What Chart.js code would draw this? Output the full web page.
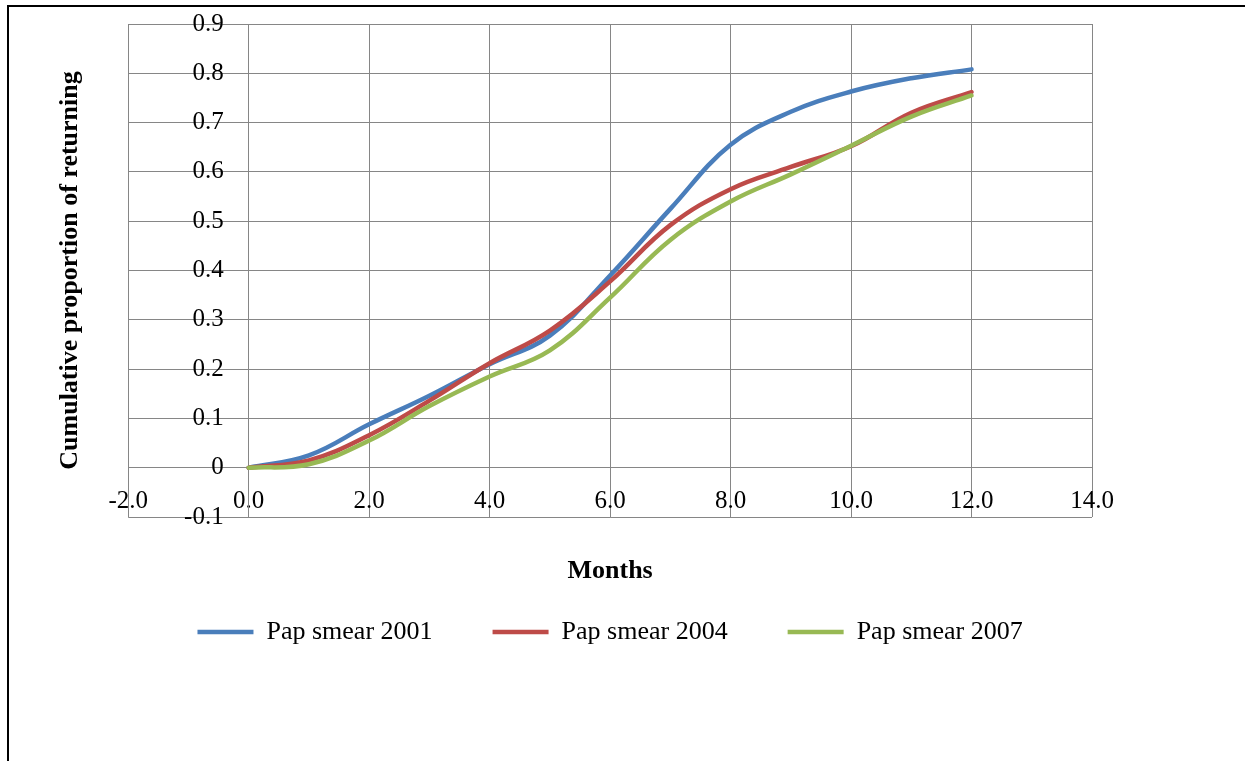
<!DOCTYPE html>
<html>
<head>
<meta charset="utf-8">
<title>Cumulative proportion of returning</title>
<script src="https://cdn.jsdelivr.net/npm/chart.js@4.4.0/dist/chart.umd.min.js"></script>
<style>
    html, body { margin: 0; padding: 0; background: #ffffff; }
    #wrap { position: relative; width: 1245px; height: 761px; }
    #frame { position: absolute; left: 7px; top: 5px; right: 0; bottom: 0; border-top: 2px solid #000; border-left: 2px solid #000; pointer-events: none; }
</style>
</head>
<body>
<div id="wrap">
    <canvas id="plot-id"></canvas>
    <div id="frame"></div>
</div>
<script>
// months since first smear
let months = [0, 1, 2, 3, 4, 5, 6, 7, 8, 9, 10, 11, 12];
// cumulative proportion of women returning
let pap2001 = [0, 0.025, 0.088, 0.146, 0.210, 0.268, 0.390, 0.525, 0.655, 0.722, 0.763, 0.790, 0.808];
let pap2004 = [0, 0.015, 0.066, 0.136, 0.212, 0.278, 0.378, 0.492, 0.565, 0.610, 0.652, 0.720, 0.762];
let pap2007 = [0, 0.007, 0.055, 0.125, 0.185, 0.238, 0.345, 0.462, 0.540, 0.595, 0.653, 0.712, 0.755];
let series_labels = ['Pap smear 2001', 'Pap smear 2004', 'Pap smear 2007'];
let series_colors = ['#4a7ebb', '#be4b48', '#98b954'];
let x_title = 'Months';
let y_title = 'Cumulative proportion of returning';

function make_points(values) {
    return months.map((m, i) => ({ x: m, y: values[i] }));
}

function plot_data() {
    Chart.defaults.font.family = "'Liberation Serif', 'Times New Roman', serif";
    Chart.defaults.color = '#000';
    let all_values = [pap2001, pap2004, pap2007];
    let datasets = [];
    for (let i = 0; i < all_values.length; i++) {
        datasets.push({
            label: series_labels[i],
            data: make_points(all_values[i]),
            borderColor: series_colors[i],
            backgroundColor: series_colors[i],
            borderWidth: 4.5,
            borderCapStyle: 'round',
            pointRadius: 0,
            tension: 0.4,
            fill: false,
            // excel draws the later series on top
            order: all_values.length - i
        });
    }
    let grid_color = '#868686';
    var ctx = document.getElementById('plot-id');
    var chart = new Chart(ctx, {
        type: 'line',
        data: { datasets: datasets },
        options: {
            responsive: true,
            maintainAspectRatio: false,
            animation: false,
            layout: { padding: { left: 31, right: 153, top: 24, bottom: 106 } },
            scales: {
                x: {
                    type: 'linear',
                    position: { y: 0 },
                    min: -2,
                    max: 14,
                    grid: { color: grid_color, lineWidth: 1, drawTicks: false },
                    border: { color: grid_color, width: 1 },
                    ticks: {
                        stepSize: 2,
                        padding: 19,
                        font: { size: 25 },
                        callback: (v) => Number(v).toFixed(1)
                    },
                    title: {
                        display: true,
                        text: x_title,
                        font: { size: 26, weight: 'bold' },
                        padding: { top: 20, bottom: 0 }
                    }
                },
                y: {
                    type: 'linear',
                    position: { x: 0 },
                    min: -0.1,
                    max: 0.9,
                    grid: { color: grid_color, lineWidth: 1, drawTicks: false },
                    border: { color: grid_color, width: 1 },
                    ticks: {
                        stepSize: 0.1,
                        padding: 0,
                        font: { size: 25 },
                        // labels sit right-aligned on the x=0 line, trailing spaces keep them off it
                        callback: (v) => (Math.abs(v) < 1e-9 ? '0' : Number(v).toFixed(1)) + '    '
                    }
                },
                // only used to hold the vertical axis title on the left
                yTitle: {
                    type: 'linear',
                    axis: 'y',
                    position: 'left',
                    display: true,
                    grid: { display: false, drawTicks: false },
                    border: { display: false },
                    ticks: { display: false },
                    title: {
                        display: true,
                        text: y_title,
                        font: { size: 26, weight: 'bold' },
                        padding: { top: 24, bottom: 42 }
                    }
                }
            },
            plugins: {
                legend: {
                    position: 'bottom',
                    fullSize: false,
                    title: { display: true, text: '', font: { size: 12 }, padding: { top: 27.6, bottom: 0 } },
                    labels: {
                        usePointStyle: true,
                        pointStyle: 'line',
                        pointStyleWidth: 56,
                        padding: 60,
                        font: { size: 26 },
                        sort: (a, b) => a.datasetIndex - b.datasetIndex
                    }
                },
                tooltip: { enabled: false }
            }
        }
    });
}
plot_data();
</script>
</body>
</html>
